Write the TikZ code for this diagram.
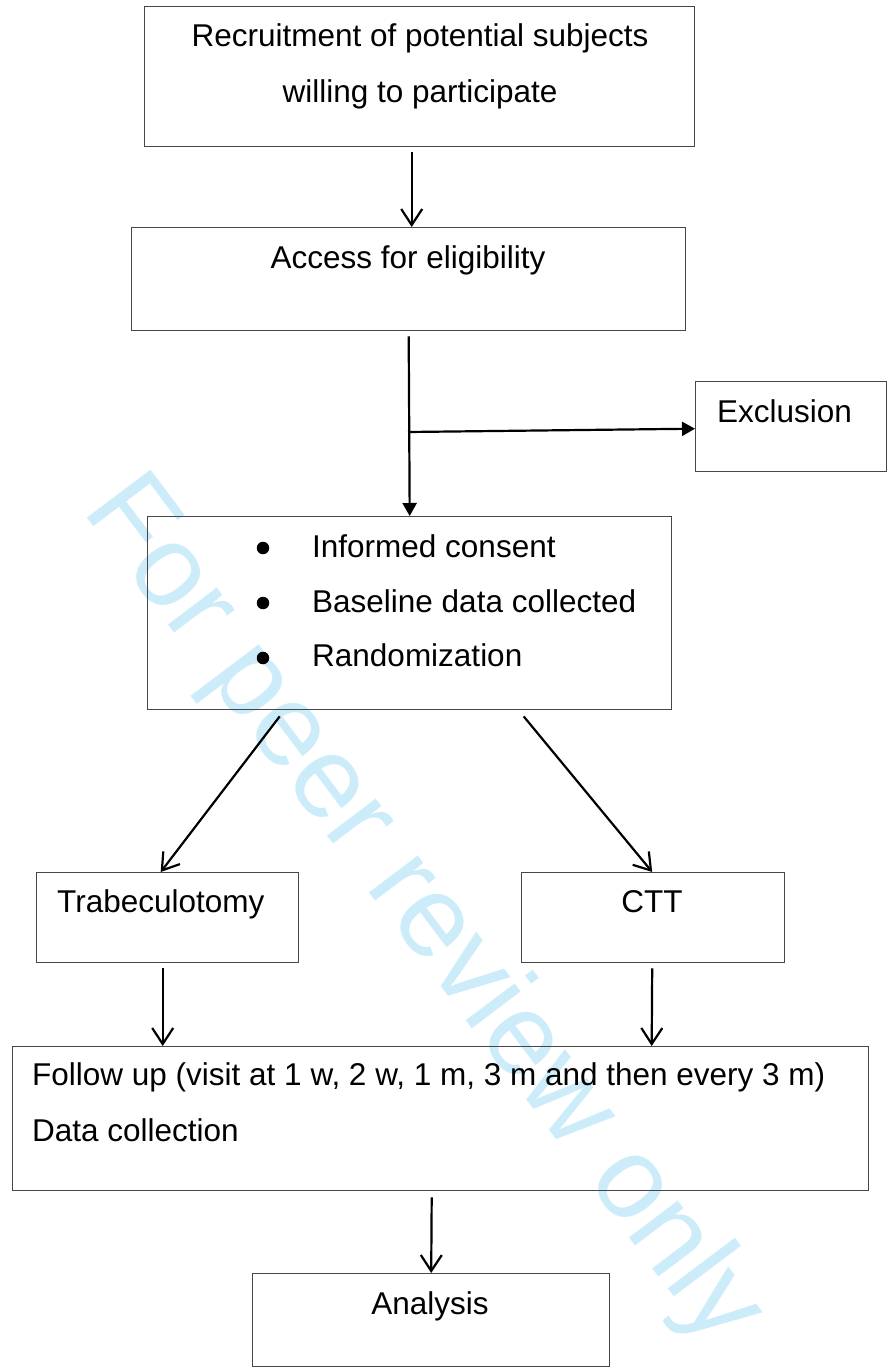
\documentclass[tikz,border=0pt]{standalone}
\usepackage{fontspec}
\setmainfont{Liberation Sans}
\usetikzlibrary{arrows.meta}
\definecolor{wm}{RGB}{205,236,250}
\begin{document}
\begin{tikzpicture}[x=1pt,y=-1pt,
  box/.style={draw=black!72, line width=1.4pt, inner sep=0pt, anchor=north west},
  txt/.style={font=\fontsize{31.5}{37}\selectfont, inner sep=0pt, anchor=base},
  dot/.style={circle, fill=black, inner sep=0pt, minimum size=12.5pt},
  vee/.style={line width=2.2pt, -{Straight Barb[length=16pt,width=21pt,line width=2.2pt]}},
  tri/.style={line width=2.2pt, -{Triangle[length=13pt,width=14pt]}}]
\useasboundingbox (0,0) rectangle (889,1371);
% watermark
\node[wm, rotate=-53, font=\fontsize{116}{116}\selectfont, inner sep=0pt] (wmark) at (422,912) {For peer review only};
% boxes
\node[box, minimum width=550pt, minimum height=140pt] (rec) at (144,6) {};
\node[box, minimum width=554pt, minimum height=103pt] (acc) at (131,227) {};
\node[box, minimum width=191pt, minimum height=90pt] (exc) at (695,381) {};
\node[box, minimum width=524pt, minimum height=193pt] (con) at (147,516) {};
\node[box, minimum width=262pt, minimum height=90pt] (trab) at (36,872) {};
\node[box, minimum width=263pt, minimum height=90pt] (ctt) at (521,872) {};
\node[box, minimum width=856pt, minimum height=144pt] (fol) at (12,1046) {};
\node[box, minimum width=357pt, minimum height=93pt] (ana) at (252,1273) {};
% texts
\node[txt] (t1) at (420,46) {Recruitment of potential subjects};
\node[txt] (t2) at (420,102) {willing to participate};
\node[txt] (t3) at (408,268) {Access for eligibility};
\node[txt, anchor=base west] (t4) at (717,422) {Exclusion};
\node[dot] (b1) at (263,548) {};
\node[dot] (b2) at (263,603) {};
\node[dot] (b3) at (263,658) {};
\node[txt, anchor=base west] (t5) at (312,557) {Informed consent};
\node[txt, anchor=base west] (t6) at (312,612) {Baseline data collected};
\node[txt, anchor=base west] (t7) at (312,666) {Randomization};
\node[txt, anchor=base west] (t8) at (57,912) {Trabeculotomy};
\node[txt] (t9) at (652,912) {CTT};
\node[txt, anchor=base west] (t10) at (32,1085) {Follow up (visit at 1 w, 2 w, 1 m, 3 m and then every 3 m)};
\node[txt, anchor=base west] (t11) at (32,1141) {Data collection};
\node[txt] (t12) at (430,1314) {Analysis};
% connectors
\coordinate (br) at (408,432);
\draw[vee] ([xshift=-8pt,yshift=-5pt]rec.south) -- ([xshift=3pt]acc.north);
\draw[tri] ([yshift=-5pt]acc.south) -- (con.north);
\draw[tri] (br) -- ([yshift=-2pt]exc.west);
\draw[vee] ([xshift=-130pt,yshift=-6pt]con.south) -- ([xshift=-7pt]trab.north);
\draw[vee] ([xshift=114pt,yshift=-6pt]con.south) -- ([xshift=-1pt]ctt.north);
\draw[vee] ([xshift=-5pt,yshift=-5pt]trab.south) -- ([xshift=-278pt]fol.north);
\draw[vee] ([xshift=-1pt,yshift=-5pt]ctt.south) -- ([xshift=211pt]fol.north);
\draw[vee] ([xshift=-9pt,yshift=-6pt]fol.south) -- ([xshift=0pt]ana.north);
\end{tikzpicture}
\end{document}
